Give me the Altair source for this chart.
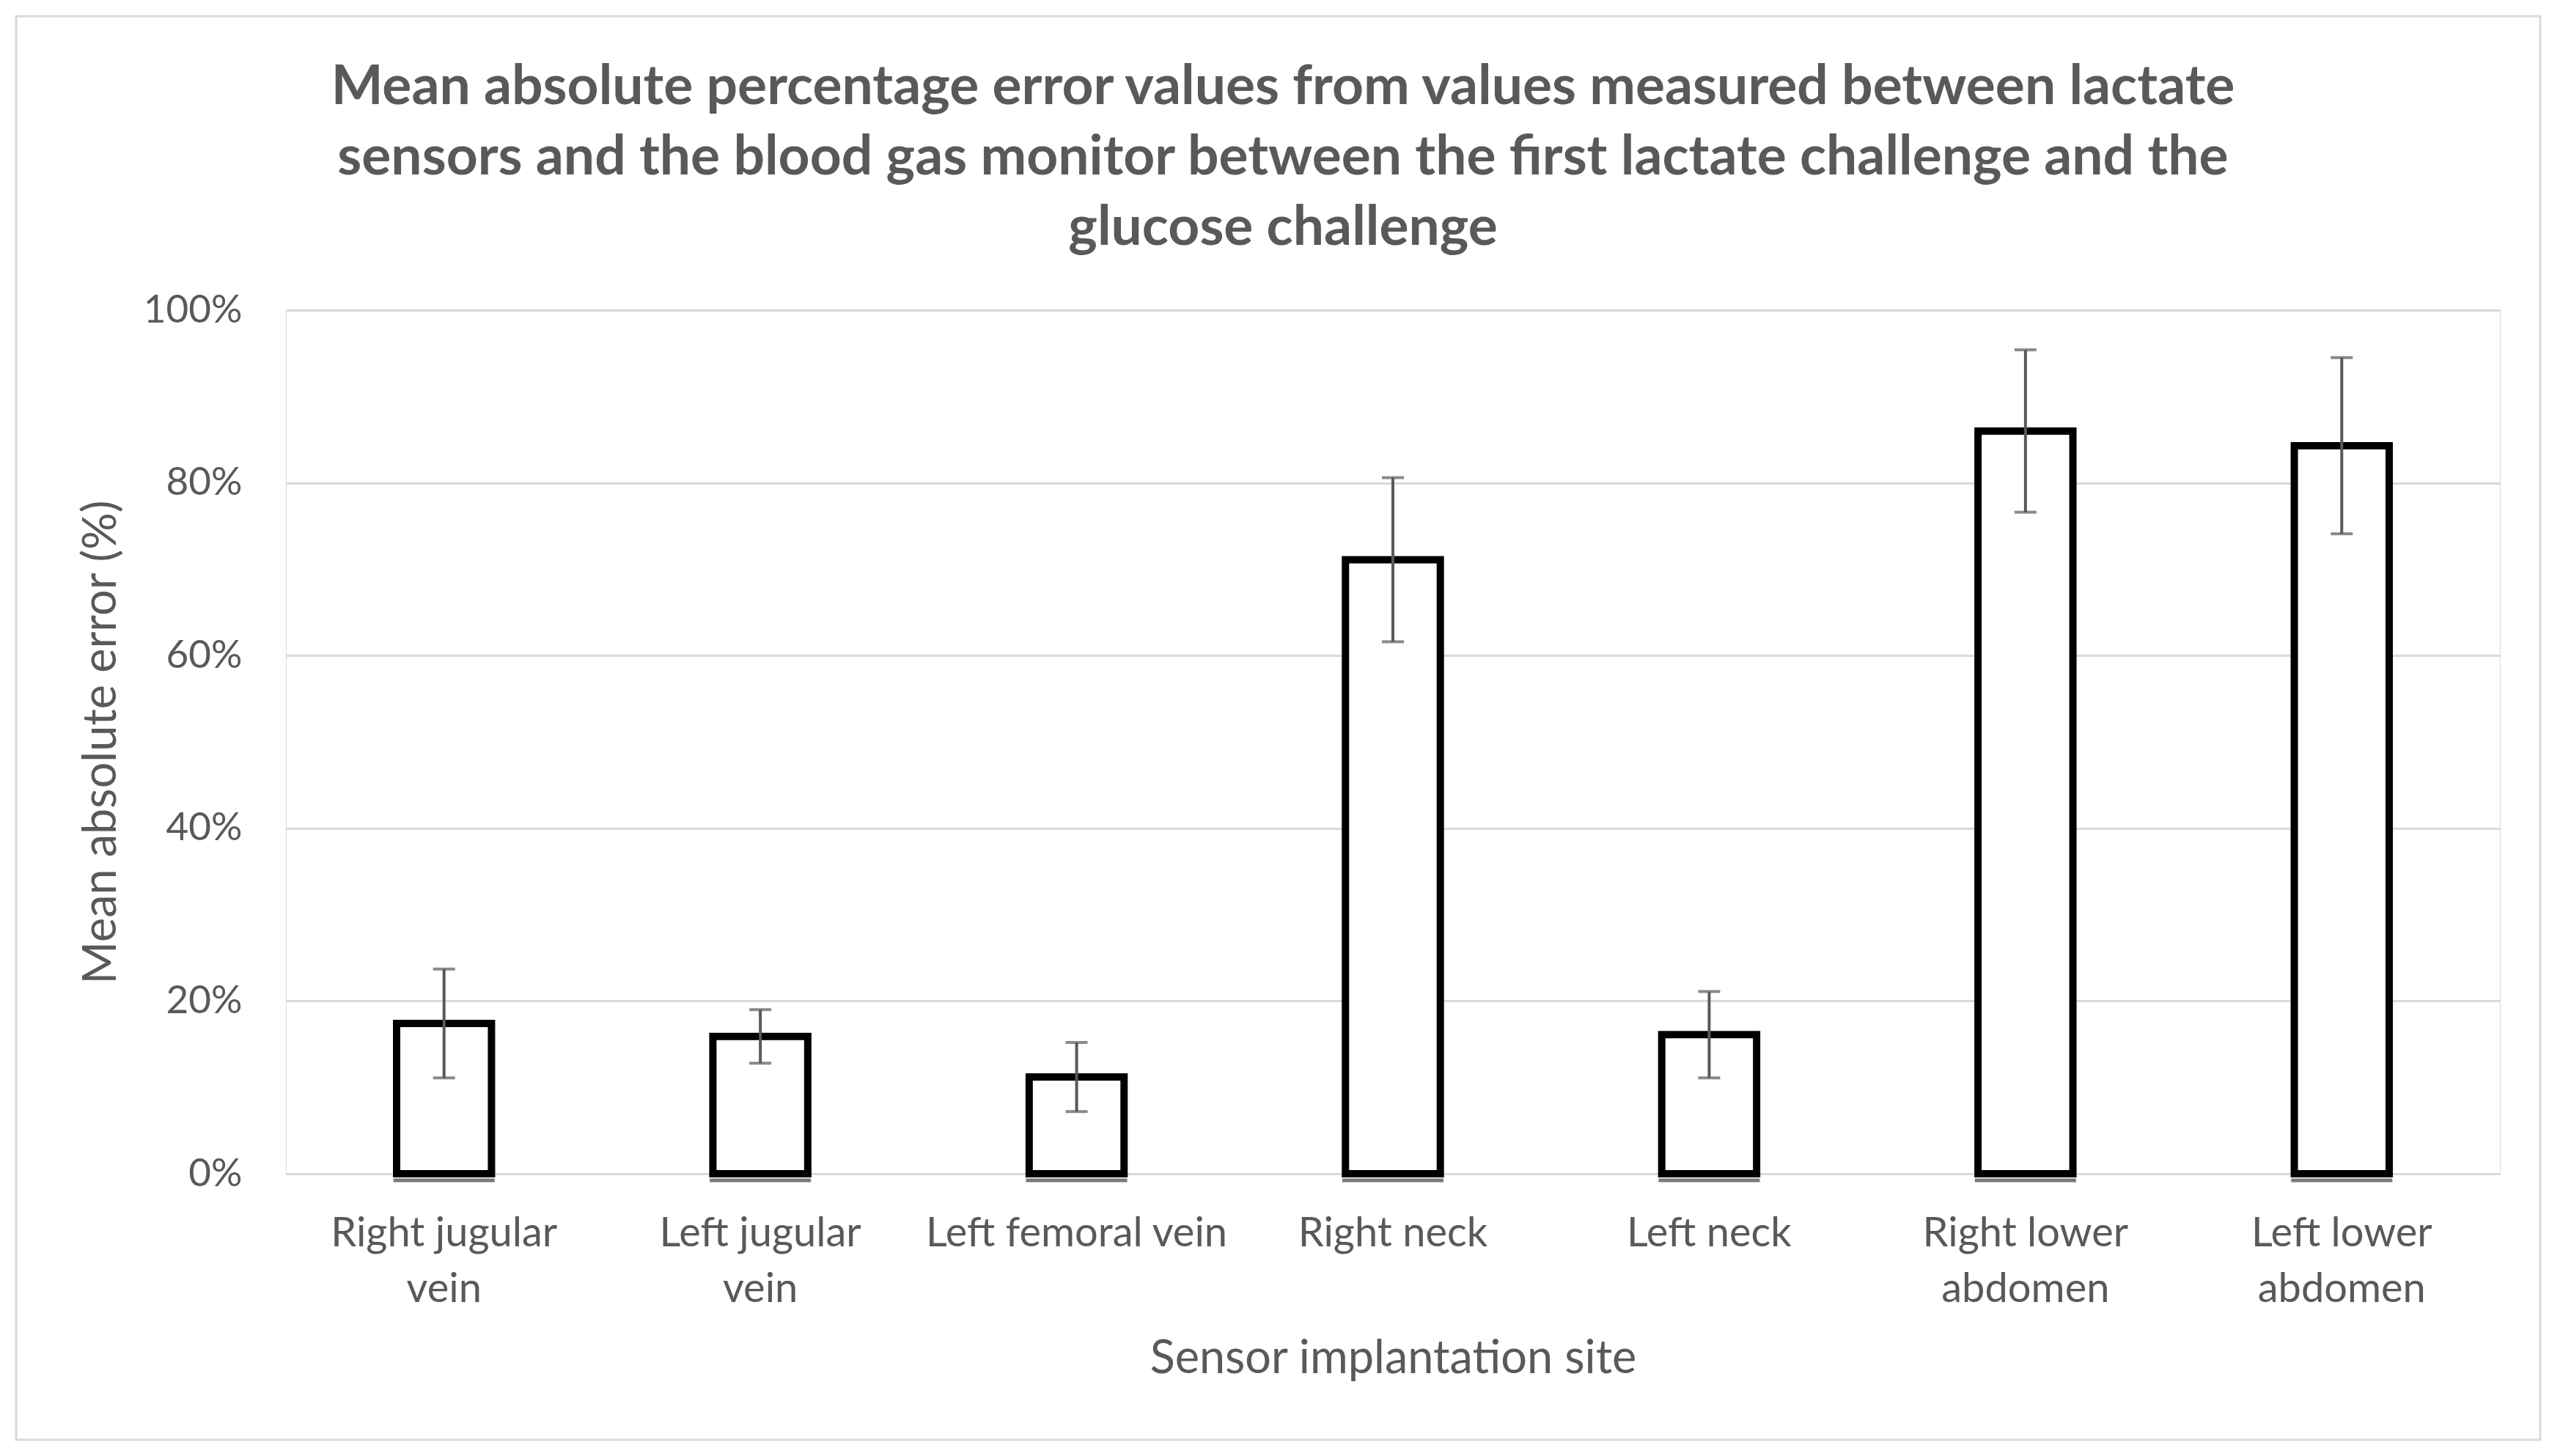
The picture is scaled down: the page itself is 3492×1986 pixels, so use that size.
import altair as alt
import pandas as pd

sites = ["Right jugular vein", "Left jugular vein", "Left femoral vein", "Right neck",
         "Left neck", "Right lower abdomen", "Left lower abdomen"]
mape = [17.4, 15.9, 11.2, 71.1, 16.1, 86.0, 84.3]
err = [6.3, 3.1, 4.0, 9.5, 5.0, 9.4, 10.2]
y_ticks = [0, 20, 40, 60, 80, 100]
title_lines = ["Mean absolute percentage error values from values measured between lactate",
               "sensors and the blood gas monitor between the first lactate challenge and the",
               "glucose challenge"]

df = pd.DataFrame({
    "site": sites,
    "mape": mape,
    "lo": [m - e for m, e in zip(mape, err)],
    "hi": [m + e for m, e in zip(mape, err)],
})

GREY = "#595959"
FONT = "Lato"

label_expr = ("datum.label == 'Right jugular vein' ? ['Right jugular', 'vein'] : "
              "datum.label == 'Left jugular vein' ? ['Left jugular', 'vein'] : "
              "datum.label == 'Right lower abdomen' ? ['Right lower', 'abdomen'] : "
              "datum.label == 'Left lower abdomen' ? ['Left lower', 'abdomen'] : datum.label")

x_enc = alt.X("site:N", sort=sites,
              scale=alt.Scale(paddingInner=0.70, paddingOuter=0.35),
              axis=alt.Axis(title="Sensor implantation site", labelExpr=label_expr,
                            labelAngle=0, grid=False, domain=False, ticks=False, tickSize=0,
                            labelFont=FONT, labelFontSize=56, labelColor=GREY,
                            labelPadding=54, labelLineHeight=76, labelLimit=0,
                            titleFont=FONT, titleFontSize=63, titleColor=GREY,
                            titleFontWeight="normal", titleX=1510, titleY=252,
                            titleBaseline="middle", titleAlign="center"))

y_scale = alt.Scale(domain=[0, 100], nice=False)

bars = alt.Chart(df).mark_bar(fill="white", stroke="black", strokeWidth=10).encode(
    x=x_enc,
    y=alt.Y("mape:Q", scale=y_scale,
            axis=alt.Axis(values=y_ticks, labelExpr="datum.value + '%'",
                          title="Mean absolute error (%)",
                          grid=True, gridColor="#d9d9d9", gridWidth=3,
                          domain=False, ticks=False, tickSize=0,
                          labelFont=FONT, labelFontSize=53, labelColor=GREY,
                          labelPadding=60,
                          titleFont=FONT, titleFontSize=63, titleColor=GREY,
                          titleFontWeight="normal", titleAngle=-90,
                          titleX=-252, titleY=589, titleBaseline="middle",
                          titleAlign="center")),
)

underline = alt.Chart(df).mark_tick(color="#404040", thickness=5, size=138, yOffset=9).encode(
    x=alt.X("site:N", sort=sites),
    y=alt.datum(0),
)

rule = alt.Chart(df).mark_rule(color=GREY, strokeWidth=4).encode(
    x=alt.X("site:N", sort=sites),
    y=alt.Y("lo:Q"),
    y2="hi:Q",
)
cap_hi = alt.Chart(df).mark_tick(color=GREY, thickness=4, size=30).encode(
    x=alt.X("site:N", sort=sites), y="hi:Q")
cap_lo = alt.Chart(df).mark_tick(color=GREY, thickness=4, size=30).encode(
    x=alt.X("site:N", sort=sites), y="lo:Q")

border = alt.Chart(pd.DataFrame({"frame": [0]})).mark_rect(
    fill=None, stroke="#d9d9d9", strokeWidth=3).encode(
    x=alt.value(-368), x2=alt.value(3075), y=alt.value(-401), y2=alt.value(1541))

chart = alt.layer(border, bars, underline, rule, cap_hi, cap_lo).properties(
    width=3020, height=1178,
    autosize=alt.AutoSizeParams(type="none"),
    padding={"left": 382, "top": 415, "right": 60, "bottom": 370},
    title=alt.TitleParams(text=title_lines, font=FONT, fontSize=75, fontWeight="bold",
                          color=GREY, lineHeight=96, anchor="middle", offset=-329,
                          dx=-150),
).configure_view(stroke=None).configure(background="white")

chart.save("out.html", embed_options={"renderer": "svg", "actions": False})
